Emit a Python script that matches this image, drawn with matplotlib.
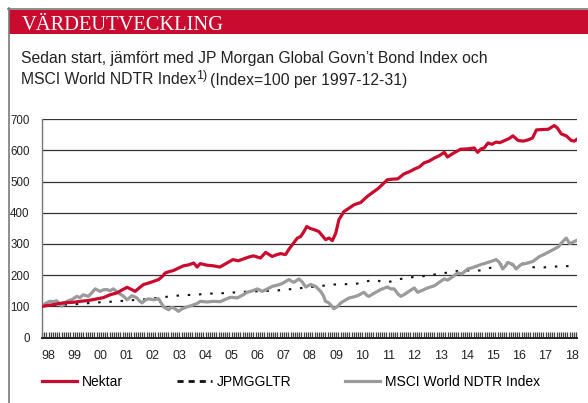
import numpy as np
import matplotlib
matplotlib.use("Agg")
import matplotlib.pyplot as plt
from matplotlib.lines import Line2D
from matplotlib.patches import Rectangle
from matplotlib.transforms import offset_copy

plt.rcParams['font.family'] = ['Liberation Sans', 'DejaVu Sans']

# values (decimal year, index value)
nektar_x = [1998.0, 1998.4, 1998.8, 1999.2, 1999.46, 1999.8, 2000.1, 2000.35, 2000.6, 2000.86,
            2001.05, 2001.25, 2001.4, 2001.56, 2001.7, 2001.88, 2002.05, 2002.26, 2002.46, 2002.6,
            2002.71, 2002.85, 2003.03, 2003.2, 2003.41, 2003.6, 2003.8, 2003.93, 2004.05, 2004.3,
            2004.55, 2004.8, 2005.05, 2005.3, 2005.5, 2005.7, 2005.9, 2006.08, 2006.35, 2006.55,
            2006.8, 2006.95, 2007.12, 2007.31, 2007.43, 2007.57, 2007.76, 2007.89, 2008.0, 2008.12,
            2008.25, 2008.4, 2008.58, 2008.71, 2008.84, 2008.97, 2009.1, 2009.23, 2009.35, 2009.54,
            2009.74, 2009.93, 2010.18, 2010.44, 2010.7, 2010.85, 2011.0, 2011.2, 2011.4, 2011.6,
            2011.84, 2012.05, 2012.23, 2012.42, 2012.6, 2012.8, 2013.0, 2013.18, 2013.38, 2013.5,
            2013.7, 2014.0, 2014.25, 2014.52, 2014.65, 2014.78, 2014.9, 2015.05, 2015.2, 2015.36,
            2015.5, 2015.66, 2015.85, 2016.0, 2016.2, 2016.4, 2016.58, 2016.75, 2016.9, 2017.1,
            2017.35, 2017.58, 2017.7, 2017.85, 2018.04, 2018.23, 2018.35, 2018.45]
nektar_y = [100, 105, 111, 113, 116, 119, 124, 128, 137, 143,
            152, 161, 155, 148, 158, 170, 174, 180, 186, 196,
            207, 211, 215, 222, 230, 233, 239, 226, 237, 232,
            230, 226, 238, 250, 246, 252, 258, 262, 255, 273,
            260, 265, 269, 266, 282, 298, 319, 324, 338, 356,
            350, 346, 340, 327, 314, 319, 311, 335, 378, 404,
            415, 426, 433, 453, 469, 478, 490, 506, 508, 509,
            525, 532, 540, 547, 560, 566, 576, 583, 594, 579,
            590, 604, 605, 608, 594, 605, 608, 624, 620, 627,
            625, 631, 638, 647, 632, 630, 634, 640, 666, 667,
            668, 680, 672, 653, 647, 632, 630, 636]

msci_x = [1998.0, 1998.15, 1998.3, 1998.45, 1998.56, 1998.68, 1998.75, 1998.85, 1998.95, 1999.15,
          1999.33, 1999.45, 1999.58, 1999.77, 1999.9, 2000.03, 2000.22, 2000.35, 2000.48, 2000.6,
          2000.73, 2000.92, 2001.12, 2001.25, 2001.35, 2001.44, 2001.63, 2001.72, 2001.82, 2001.95,
          2002.07, 2002.26, 2002.46, 2002.55, 2002.65, 2002.84, 2002.95, 2003.03, 2003.12, 2003.22,
          2003.35, 2003.54, 2003.7, 2003.93, 2004.05, 2004.3, 2004.56, 2004.82, 2005.0, 2005.2,
          2005.46, 2005.65, 2005.84, 2006.05, 2006.23, 2006.42, 2006.6, 2006.8, 2007.0, 2007.18,
          2007.44, 2007.55, 2007.63, 2007.82, 2007.95, 2008.08, 2008.27, 2008.46, 2008.65, 2008.75,
          2008.84, 2008.95, 2009.03, 2009.16, 2009.3, 2009.42, 2009.6, 2009.74, 2009.9, 2010.06,
          2010.31, 2010.42, 2010.5, 2010.65, 2010.82, 2010.95, 2011.2, 2011.33, 2011.46, 2011.6,
          2011.72, 2011.85, 2011.97, 2012.23, 2012.36, 2012.5, 2012.74, 2013.0, 2013.2, 2013.38,
          2013.5, 2013.63, 2013.89, 2014.05, 2014.27, 2014.45, 2014.65, 2014.78, 2015.04, 2015.2,
          2015.36, 2015.48, 2015.61, 2015.72, 2015.8, 2016.0, 2016.12, 2016.31, 2016.57, 2016.76,
          2017.02, 2017.2, 2017.34, 2017.59, 2017.75, 2017.85, 2018.04, 2018.17, 2018.3, 2018.45]
msci_y = [100, 110, 116, 115, 118, 107, 100, 110, 116, 122,
          132, 128, 137, 132, 143, 156, 148, 153, 154, 150,
          156, 143, 132, 121, 128, 134, 127, 118, 111, 120,
          124, 121, 124, 112, 98, 89, 97, 95, 90, 84,
          92, 98, 102, 109, 116, 114, 116, 115, 122, 129,
          127, 135, 145, 150, 156, 148, 155, 164, 168, 173,
          186, 180, 177, 188, 178, 162, 170, 164, 148, 135,
          116, 112, 105, 92, 100, 111, 120, 127, 130, 134,
          145, 135, 132, 140, 148, 154, 162, 156, 156, 140,
          132, 138, 145, 159, 145, 150, 159, 166, 178, 188,
          184, 191, 207, 204, 220, 224, 230, 234, 241, 245,
          250, 241, 220, 230, 241, 234, 220, 234, 239, 244,
          260, 267, 273, 284, 292, 303, 319, 301, 306, 312]

jpm_x = [1998.0, 1998.5, 1999.0, 1999.5, 2000.0, 2000.5, 2000.86, 2001.3, 2001.75, 2002.3,
         2002.9, 2003.4, 2003.9, 2004.3, 2004.7, 2005.08, 2005.6, 2006.1, 2006.5, 2007.0,
         2007.5, 2007.95, 2008.52, 2009.16, 2009.6, 2010.06, 2010.4, 2010.7, 2010.95, 2011.2,
         2011.72, 2012.1, 2012.5, 2013.0, 2013.4, 2014.0, 2014.4, 2014.78, 2015.2, 2015.55,
         2015.9, 2016.3, 2016.5, 2016.7, 2017.0, 2017.4, 2017.7, 2018.0, 2018.3, 2018.45]
jpm_y = [100, 104, 106, 108, 112, 114, 116, 119, 121, 126,
         132, 136, 137, 141, 141, 143, 146, 148, 149, 151,
         155, 159, 164, 170, 171, 173, 180, 185, 180, 177,
         188, 193, 196, 202, 207, 215, 215, 215, 225, 234,
         232, 239, 234, 226, 224, 226, 228, 230, 226, 227]

years = list(range(1998, 2019))
year_labels = [f"{y % 100:02d}" for y in years]
y_ticks = [0, 100, 200, 300, 400, 500, 600, 700]

red = '#c90b2f'
grey = '#9b9b9b'
txt = '#222222'

fig = plt.figure(figsize=(5.88, 4.03), dpi=100)
W, H = 588, 403

# box frame + red header band
fig.add_artist(Line2D([8.5 / W, 8.5 / W], [0, 1 - 8 / H], color='#7a7a7a', lw=1.2,
                      transform=fig.transFigure))
fig.add_artist(Line2D([8 / W, 1], [1 - 8.5 / H, 1 - 8.5 / H], color='#7a7a7a', lw=1.2,
                      transform=fig.transFigure))
fig.add_artist(Rectangle((9 / W, 1 - 34 / H), 1, 24 / H, color=red, lw=0,
                         transform=fig.transFigure))
fig.text(22 / W, 1 - 29.5 / H, "VÄRDEUTVECKLING", color='white', fontsize=14.8,
         family='Liberation Serif', va='baseline', ha='left')
fig.text(21 / W, 1 - 59 / H, "Sedan start, jämfört med JP Morgan Global Govn’t Bond Index och",
         fontsize=11.3, va='center', ha='left', color=txt)

# second subtitle line with a raised footnote mark
renderer = fig.canvas.get_renderer()
t1 = fig.text(21 / W, 1 - 80 / H, "MSCI World NDTR Index", fontsize=11.3, va='center',
              ha='left', color=txt)
w1 = t1.get_window_extent(renderer).width
t2 = fig.text(21 / W, 1 - 80 / H, "1)", fontsize=9, va='center', ha='left', color=txt,
              transform=offset_copy(fig.transFigure, fig=fig, x=w1, y=4, units='dots'))
w2 = t2.get_window_extent(renderer).width
fig.text(21 / W, 1 - 80 / H, "(Index=100 per 1997-12-31)", fontsize=11.3, va='center',
         ha='left', color=txt,
         transform=offset_copy(fig.transFigure, fig=fig, x=w1 + w2 + 3, y=0, units='dots'))

ax = fig.add_axes([42 / W, 1 - 337.5 / H, 535 / W, 218.2 / H])

ax.plot(jpm_x, jpm_y, color='#111111', lw=1.5, linestyle=(0, (1.2, 4.2)), zorder=3)
ax.plot(msci_x, msci_y, color=grey, lw=2.3, zorder=4)
ax.plot(nektar_x, nektar_y, color=red, lw=2.3, zorder=5)

ax.set_xlim(1998.0, 2018.45)
ax.set_ylim(0, 700)
ax.set_yticks(y_ticks)
ax.set_yticklabels([str(v) for v in y_ticks], fontsize=8.3, color=txt)
ax.set_xticks([y + 0.24 for y in years])
ax.set_xticklabels(year_labels, fontsize=9, color=txt)
ax.set_xticks(np.arange(1998.0, 2018.46, 1 / 12), minor=True)
ax.tick_params(axis='x', which='major', length=0, pad=9)
ax.tick_params(axis='x', which='minor', direction='in', length=4, width=0.9, color='#444444')
ax.tick_params(axis='y', length=0, pad=9)

ax.grid(axis='y', color='#333333', lw=0.9)
ax.set_axisbelow(True)
for s in ['top', 'right']:
    ax.spines[s].set_visible(False)
ax.spines['left'].set_color('#777777')
ax.spines['left'].set_linewidth(1.0)
ax.spines['bottom'].set_color('#222222')
ax.spines['bottom'].set_linewidth(1.4)

handles = [Line2D([], [], color=red, lw=2.3),
           Line2D([], [], color='#111111', lw=2, dashes=(2.2, 1.8)),
           Line2D([], [], color=grey, lw=2.3)]
fig.legend(handles, ['Nektar', 'JPMGGLTR', 'MSCI World NDTR Index'], ncol=3,
           loc='center left', bbox_to_anchor=(42 / W, 1 - 382 / H), frameon=False,
           fontsize=10, handlelength=2.5, handletextpad=0.35, columnspacing=3.9,
           borderaxespad=0, borderpad=0)

fig.savefig("out.png", dpi=100)
